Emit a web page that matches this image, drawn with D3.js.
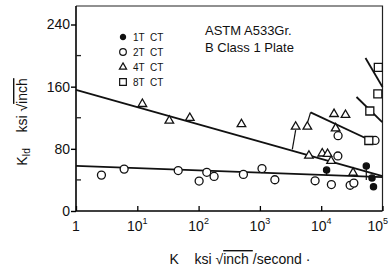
<!DOCTYPE html>
<html>
<head>
<meta charset="utf-8">
<script src="https://cdn.jsdelivr.net/npm/d3@7"></script>
<style>
body { margin: 0; background: #fff; }
text { font-family: "Liberation Sans", Arial, sans-serif; fill: #111; }
</style>
</head>
<body>
<svg id="chart" width="389" height="270"></svg>
<script>
// [K (ksi sqrt(inch)/s), KId (ksi sqrt(inch))]
const ct1 = [[12250, 52.8], [54400, 57.9], [67400, 42.5], [71300, 31.3]];
const ct2 = [[2.6, 46.2], [6.1, 53.9], [46.5, 52], [102, 38.5], [136, 49.8], [179, 44.5],
             [538, 47.1], [1082, 54.6], [1754, 40.2], [7950, 38.9], [14660, 34], [29650, 33.1],
             [34100, 35.9], [18850, 96.9], [75500, 90.8], [18700, 70.8]];
const ct4 = [[12.1, 137.7], [33.3, 116.2], [71.9, 119.7], [500, 111.7], [3830, 108.5], [5940, 108.5],
             [16200, 124.8], [24900, 123.6], [17200, 106.4], [6310, 71.2], [10400, 74], [12700, 73.4],
             [14500, 64.4], [33100, 49.2]];
const ct8 = [[85500, 184.7], [83900, 150.6], [62100, 128.7], [59800, 90.7]];

// fitted trend lines
const trendLines = [
    [[1, 156], [1e5, 45]],
    [[1, 58], [1e5, 43.5]],
    [[6710, 127], [76900, 87.9]],
    [[37700, 146.7], [98900, 114.5]],
    [[52800, 196.9], [100000, 159.6]]
];
// short leader strokes tying points to lines
const leaders = [
    [[3830, 104], [3380, 79.4]],
    [[6020, 114.5], [6710, 127]],
    [[54400, 59], [54400, 40]],
    [[12250, 52.8], [12250, 46]]
];

const xTicks = [1, 10, 100, 1000, 10000, 100000];
const yMajor = [0, 80, 160, 240];
const yMinor = [40, 120, 200];

const legendItems = [
    { key: 'ct1', label: '1T  CT' },
    { key: 'ct2', label: '2T  CT' },
    { key: 'ct4', label: '4T  CT' },
    { key: 'ct8', label: '8T  CT' }
];

const svg = d3.select('#chart');

const x = d3.scaleLog().domain([1, 1e5]).range([76, 382.5]);
const y = d3.scaleLinear().domain([0, 240]).range([211, 24.5]);
const frameTop = 6;

// frame
svg.append('path')
    .attr('d', `M${x(1)},${frameTop}H${x(1e5)}V${y(0)}`)
    .attr('fill', 'none')
    .attr('stroke', '#222')
    .attr('stroke-width', 1.2);

// y axis
const yAxis = svg.append('g')
    .attr('transform', `translate(${x(1)},0)`)
    .call(d3.axisLeft(y).tickValues(yMajor).tickSize(5).tickFormat(d3.format('d')));
yAxis.select('.domain').attr('d', `M0,${frameTop}V${y(0)}`).attr('stroke-width', 1.6);
yAxis.selectAll('.tick line').attr('stroke-width', 1.4);
yAxis.selectAll('.tick text')
    .attr('x', -6)
    .style('font-size', '14px')
    .style('font-family', '"Liberation Sans", Arial, sans-serif');
yAxis.selectAll('.minor')
    .data(yMinor)
    .enter()
    .append('line')
    .attr('x1', 0).attr('x2', 5)
    .attr('y1', d => y(d)).attr('y2', d => y(d))
    .attr('stroke', '#222')
    .attr('stroke-width', 1.3);

// x axis
const xAxis = svg.append('g')
    .attr('transform', `translate(0,${y(0)})`)
    .call(d3.axisBottom(x).tickValues(xTicks).tickSize(-5).tickFormat(''));
xAxis.select('.domain').attr('d', `M${x(1)},0H${x(1e5)}`).attr('stroke-width', 1.6);
xAxis.selectAll('.tick line').attr('stroke-width', 1.3);

const xLabels = svg.append('g');
xTicks.forEach(t => {
    const e = Math.round(Math.log10(t));
    const last = t === xTicks[xTicks.length - 1];
    const lbl = xLabels.append('text')
        .attr('x', last ? 388 : x(t))
        .attr('y', 231)
        .attr('text-anchor', last ? 'end' : 'middle')
        .style('font-size', '14px');
    if (e === 0) {
        lbl.text('1');
    } else {
        lbl.append('tspan').text('10');
        lbl.append('tspan').attr('dy', -7).style('font-size', '9px').text(e);
    }
});

// trend lines
const line = d3.line().x(d => x(d[0])).y(d => y(d[1]));
svg.selectAll('.trend')
    .data(trendLines)
    .enter()
    .append('path')
    .attr('class', 'trend')
    .attr('d', line)
    .attr('fill', 'none')
    .attr('stroke', '#111')
    .attr('stroke-width', 1.8);

svg.selectAll('.leader')
    .data(leaders)
    .enter()
    .append('path')
    .attr('class', 'leader')
    .attr('d', line)
    .attr('fill', 'none')
    .attr('stroke', '#111')
    .attr('stroke-width', 1.2);

// markers
const symbols = {
    ct1: { type: d3.symbolCircle, size: 30, fill: '#111' },
    ct2: { type: d3.symbolCircle, size: 50, fill: '#fff' },
    ct4: { type: d3.symbolTriangle, size: 32, fill: '#fff' },
    ct8: { type: d3.symbolSquare, size: 64, fill: '#fff' }
};
const series = { ct1, ct2, ct4, ct8 };

Object.keys(series).forEach(k => {
    const s = symbols[k];
    svg.selectAll('.pt-' + k)
        .data(series[k])
        .enter()
        .append('path')
        .attr('class', 'pt-' + k)
        .attr('d', d3.symbol().type(s.type).size(s.size))
        .attr('transform', d => `translate(${x(d[0])},${y(d[1])})`)
        .attr('fill', s.fill)
        .attr('stroke', '#111')
        .attr('stroke-width', 1.3);
});

// legend
const legend = svg.append('g').attr('transform', 'translate(123,37)');
legendItems.forEach((it, i) => {
    const s = symbols[it.key];
    const row = legend.append('g').attr('transform', `translate(0,${i * 15})`);
    row.append('path')
        .attr('d', d3.symbol().type(s.type).size(s.size * 0.7))
        .attr('fill', s.fill)
        .attr('stroke', '#111')
        .attr('stroke-width', 1.2);
    row.append('text')
        .attr('x', 10)
        .attr('dy', '0.35em')
        .style('font-size', '10px')
        .style('white-space', 'pre')
        .text(it.label);
});

// material annotation
svg.append('text').attr('x', 205).attr('y', 35).style('font-size', '13px').text('ASTM  A533Gr.');
svg.append('text').attr('x', 205).attr('y', 52).style('font-size', '13px').text('B  Class 1 Plate');

// axis titles
const xt = svg.append('text')
    .attr('x', 240)
    .attr('y', 264)
    .attr('text-anchor', 'middle')
    .style('font-size', '14px')
    .style('white-space', 'pre');
xt.append('tspan').text('K    ksi ');
xt.append('tspan').text('√');
xt.append('tspan').style('text-decoration', 'overline').text('inch ');
xt.append('tspan').text('/second ·');

const yt = svg.append('text')
    .attr('transform', 'translate(27,122) rotate(-90)')
    .attr('text-anchor', 'middle')
    .style('font-size', '14px')
    .style('white-space', 'pre');
yt.append('tspan').text('K');
yt.append('tspan').attr('dy', 3).style('font-size', '10px').text('Id');
yt.append('tspan').attr('dy', -3).text('    ksi ');
yt.append('tspan').text('√');
yt.append('tspan').style('text-decoration', 'overline').text('inch');
</script>
</body>
</html>
